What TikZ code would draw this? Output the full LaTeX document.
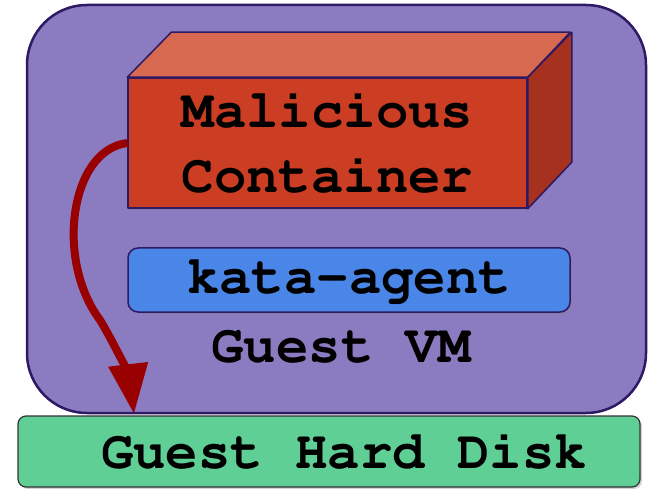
\documentclass[tikz,border=0pt]{standalone}
\usepackage[T1]{fontenc}
\usepackage{courier}
\usetikzlibrary{arrows.meta,shadows}
\definecolor{vmpurple}{RGB}{139,124,193}
\definecolor{edgeblue}{RGB}{45,25,100}
\definecolor{boxfront}{RGB}{203,62,36}
\definecolor{boxtop}{RGB}{214,105,80}
\definecolor{boxside}{RGB}{165,49,30}
\definecolor{agentblue}{RGB}{74,134,232}
\definecolor{diskgreen}{RGB}{96,207,150}
\definecolor{attackred}{RGB}{153,0,0}

\begin{document}
\begin{tikzpicture}[x=1pt,y=-1pt,
    bigtext/.style={font=\fontsize{54}{65}\selectfont\ttfamily\bfseries, text=black},
    softshadow/.style={drop shadow={shadow xshift=2pt,shadow yshift=-2pt,opacity=0.35}},
    face/.style={draw=edgeblue, line width=1.5pt, line join=round},
    attack/.style={draw=attackred, line width=8pt,
      -{Triangle[length=50pt,width=38pt]}}]
      \useasboundingbox (0,0) rectangle (648,489);
      % guest VM
      \draw[fill=vmpurple, draw=edgeblue, line width=2.5pt, rounded corners=60pt]
        (27,5) rectangle (646,413);
      % guest disk
      \node[bigtext, softshadow, draw=black!80, fill=diskgreen, line width=1.2pt,
        rounded corners=8pt, minimum width=622pt, minimum height=71pt, inner sep=0pt]
        (disk) at (329,451.5) {\hspace*{30pt}Guest Hard Disk};
      % container cube
      \node[bigtext, face, softshadow, fill=boxfront, minimum width=399pt,
        minimum height=130pt, align=center, inner sep=0pt]
        (container) at (327.5,143) {Malicious\\Container};
      \draw[face, fill=boxtop] (container.north west) -- ++(44,-45) -- ++(399,0)
        -- (container.north east) -- cycle;
      \draw[face, fill=boxside] (container.north east) -- ++(44,-45) -- ++(0,130)
        -- (container.south east) -- cycle;
      % agent
      \node[bigtext, face, softshadow, fill=agentblue, rounded corners=10pt,
        minimum width=442pt, minimum height=64pt, inner sep=0pt]
        (agent) at (349,280) {kata-agent};
      \node[bigtext] (vmlabel) at (341,347) {Guest VM};
      % attack path
      \coordinate (hit) at (134,414);
      \draw[attack] (container.west) .. controls (70,150) and (55,260) .. (100,320)
        .. controls (118,350) and (130,380) .. (hit);
\end{tikzpicture}
\end{document}
